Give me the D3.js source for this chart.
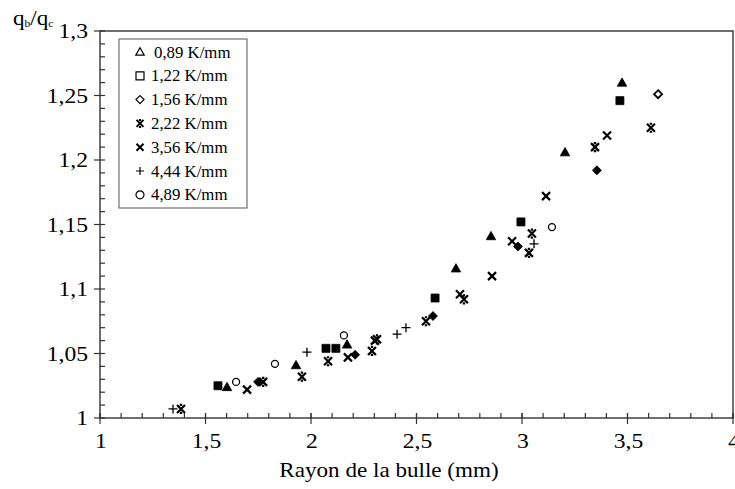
<!DOCTYPE html>
<html><head><meta charset="utf-8">
<script src="https://cdn.jsdelivr.net/npm/d3@7"></script>
<style>body{margin:0;background:#fff}svg{display:block}</style>
</head><body>
<svg id="c" width="735" height="489" font-family="'Liberation Serif','Times New Roman','DejaVu Serif',serif"></svg>
<script>
// ---- data ----
const seriesNames = ["0,89 K/mm","1,22 K/mm","1,56 K/mm","2,22 K/mm","3,56 K/mm","4,44 K/mm","4,89 K/mm"];
const seriesShapes = ["triangle","square","diamond","asterisk","times","plus","circle"];
const seriesFilled = [true,true,true,false,false,false,false];
const s089 = [[1.602,1.024],[1.929,1.041],[2.171,1.057],[2.687,1.116],[2.853,1.141],[3.204,1.206],[3.474,1.260]];
const s122 = [[1.559,1.025],[2.071,1.054],[2.118,1.054],[2.588,1.093],[2.995,1.152],[3.464,1.246]];
const s156 = [[1.749,1.028],[2.209,1.049],[2.578,1.079],[2.981,1.133],[3.355,1.192]];
const s156open = [[3.645,1.251]];
const s222 = [[1.384,1.007],[1.773,1.028],[1.957,1.032],[2.081,1.044],[2.289,1.052],[2.313,1.061],[2.545,1.075],[2.725,1.092],[3.033,1.128],[3.047,1.143],[3.346,1.210],[3.611,1.225]];
const s356 = [[1.697,1.022],[2.175,1.047],[2.303,1.060],[2.706,1.096],[2.858,1.110],[2.953,1.137],[3.114,1.172],[3.403,1.219]];
const s444 = [[1.346,1.007],[1.981,1.051],[2.408,1.065],[2.450,1.070],[3.057,1.135]];
const s489 = [[1.645,1.028],[1.829,1.042],[2.156,1.064],[3.142,1.148]];
const seriesData = [s089,s122,s156,s222,s356,s444,s489];
const xTicks = [1,1.5,2,2.5,3,3.5,4];
const yTicks = [1,1.05,1.1,1.15,1.2,1.25,1.3];
const fmt = v => String(+v.toFixed(2)).replace(".", ",");

// ---- layout ----
const svg = d3.select("#c");
const L = 100, R = 733, T = 31, B = 418;
const x = d3.scaleLinear().domain([1,4]).range([L,R]);
const y = d3.scaleLinear().domain([1,1.3]).range([B,T]);
const axisCol = "#333";

function shapePath(t, s){
  const h = s/2;
  switch(t){
    case "triangle": return `M0,${-h*1.05}L${h*1.05},${h*0.8}L${-h*1.05},${h*0.8}Z`;
    case "square": return `M${-h},${-h}H${h}V${h}H${-h}Z`;
    case "diamond": return `M0,${-h}L${h},0L0,${h}L${-h},0Z`;
    case "times": return `M${-h},${-h}L${h},${h}M${h},${-h}L${-h},${h}`;
    case "asterisk": return `M${-h},${-h}L${h},${h}M${h},${-h}L${-h},${h}M${-h*0.3},${-h}H${h*0.3}M${-h*0.3},${h}H${h*0.3}`;
    case "plus": return `M${-h},0H${h}M0,${-h}V${h}`;
    case "circle": return `M${h},0A${h},${h} 0 1 1 ${-h},0A${h},${h} 0 1 1 ${h},0Z`;
  }
}
const plotSize = {triangle:9, square:8, diamond:9, times:8, asterisk:8, plus:9, circle:7};

// frame
svg.append("rect").attr("x",L).attr("y",T).attr("width",R-L).attr("height",B-T)
  .attr("fill","none").attr("stroke",axisCol).attr("stroke-width",1.4);

// y ticks
const yMinor = d3.range(0,31).map(i => 1 + i*0.01);
svg.append("g").selectAll("line").data(yMinor).join("line")
  .attr("x1",L).attr("x2",L+5).attr("y1",d=>y(d)).attr("y2",d=>y(d))
  .attr("stroke",axisCol).attr("stroke-width",1.2);
svg.append("g").selectAll("line").data(yTicks).join("line")
  .attr("x1",L-6).attr("x2",L).attr("y1",d=>y(d)).attr("y2",d=>y(d))
  .attr("stroke",axisCol).attr("stroke-width",1.2);
svg.append("g").selectAll("text").data(yTicks).join("text")
  .attr("transform",d=>`translate(${L-12},${y(d)+7}) scale(1.18,1)`).attr("text-anchor","end")
  .attr("font-size",20).text(fmt);

// x ticks
const xMinor = d3.range(0,31).map(i => 1 + i*0.1);
svg.append("g").selectAll("line").data(xMinor).join("line")
  .attr("x1",d=>x(d)).attr("x2",d=>x(d)).attr("y1",B).attr("y2",B-5)
  .attr("stroke",axisCol).attr("stroke-width",1.2);
svg.append("g").selectAll("line").data(xTicks).join("line")
  .attr("x1",d=>x(d)).attr("x2",d=>x(d)).attr("y1",B-5).attr("y2",B+6)
  .attr("stroke",axisCol).attr("stroke-width",1.2);
svg.append("g").selectAll("text").data(xTicks).join("text")
  .attr("transform",d=>`translate(${x(d)+1},${B+30}) scale(1.18,1)`).attr("text-anchor","middle")
  .attr("font-size",20).text(fmt);

// axis titles
svg.append("text").attr("transform","translate(389,477) scale(1.1,1)").attr("text-anchor","middle")
  .attr("font-size",21).text("Rayon de la bulle (mm)");
const yt = svg.append("text").attr("transform","translate(13,25) scale(1.05,1)").attr("font-size",22);
yt.append("tspan").text("q");
yt.append("tspan").attr("font-size",11).attr("dy",2).text("b");
yt.append("tspan").attr("dy",-2).text("/q");
yt.append("tspan").attr("font-size",11).attr("dy",2).text("c");

// points
const pts = svg.append("g");
seriesData.forEach((data,i) => {
  const t = seriesShapes[i];
  pts.append("g").selectAll("path").data(data).join("path")
    .attr("transform",d=>`translate(${x(d[0])},${y(d[1])})`)
    .attr("d",shapePath(t,plotSize[t]))
    .attr("fill", seriesFilled[i] ? "#000" : "none")
    .attr("stroke","#000").attr("stroke-width", seriesFilled[i] ? 0.8 : (t==="plus"||t==="circle"?1.3:2.2));
});
pts.append("g").selectAll("path").data(s156open).join("path")
  .attr("transform",d=>`translate(${x(d[0])},${y(d[1])})`)
  .attr("d",shapePath("diamond",8)).attr("fill","none")
  .attr("stroke","#000").attr("stroke-width",1.8);

// legend
const lg = svg.append("g");
lg.append("rect").attr("x",119).attr("y",39).attr("width",128).attr("height",169)
  .attr("fill","#fff").attr("stroke","#555").attr("stroke-width",1);
seriesNames.forEach((name,i) => {
  const cy = 52 + i*23.8;
  const t = seriesShapes[i];
  lg.append("path").attr("transform",`translate(140,${cy})`)
    .attr("d",shapePath(t, t==="times"||t==="asterisk"?7:8))
    .attr("fill","none").attr("stroke","#000")
    .attr("stroke-width", (t==="times"||t==="asterisk")?2:1.2);
  lg.append("text").attr("transform",`translate(${i===0?154:151},${cy+5.5}) scale(1.05,1)`)
    .attr("font-size",16).text(name);
});
</script>
</body></html>
